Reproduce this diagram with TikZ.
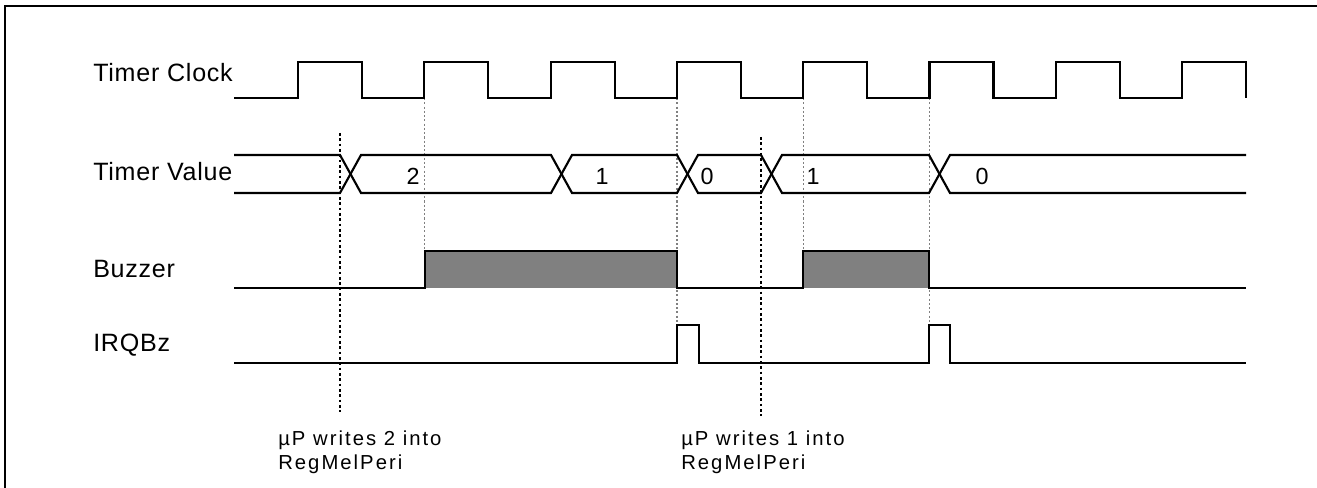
\documentclass[tikz,border=0pt]{standalone}
\usepackage{fontspec}
\setmainfont{Liberation Sans}
\newfontfamily\sigfont[LetterSpace=3]{Liberation Sans}
\newfontfamily\notefont[LetterSpace=10]{Liberation Sans}
\usetikzlibrary{positioning}

\tikzset{
  wave/.style={line width=1.6pt, line join=miter},
  sig/.style={anchor=base west, inner sep=0pt, font=\sigfont\fontsize{18.8}{21}\selectfont},
  busval/.style={inner sep=0pt, font=\fontsize{17.5}{19}\selectfont},
  note/.style={anchor=north west, inner sep=0pt, align=left, font=\notefont\fontsize{15.2}{17.4}\selectfont},
  edgemark/.style={gray, line width=1pt, dash pattern=on 1.6pt off 1.6pt},
  writemark/.style={black, line width=1.5pt, dash pattern=on 2pt off 2pt},
}

\begin{document}
\begin{tikzpicture}[x=0.75pt, y=-0.75pt]
\useasboundingbox (0,0) rectangle (1317,488);
\draw[line width=0.9pt] (5,488) -- (5,6) -- (1317,6);

% signal names
\node[sig] (clk) at (93,82)  {Timer Clock};
\node[sig] (val) at (93,181) {Timer Value};
\node[sig] (buz) at (93,277) {Buzzer};
\node[sig] (irq) at (93,351) {IRQBz};

% rising edges of the clock
\foreach \i in {0,...,7}
  \coordinate (r\i) at ({298+126.3*\i},98);

% guides from the clock edges
\draw[edgemark] (r1) -- (r1 |- 0,251);
\draw[edgemark] (r3) -- (r3 |- 0,325);
\draw[edgemark] (r4) -- (r4 |- 0,251);
\draw[edgemark] (r5) -- (r5 |- 0,325);

% writes of the microprocessor
\coordinate (w1) at (340,133);
\coordinate (w2) at (761,137);
\draw[writemark] (w1) -- (w1 |- 0,412);
\draw[writemark] (w2) -- (w2 |- 0,416);

% timer clock
\draw[wave] (234,98) foreach \i in {0,...,7} {
  -- ({298+126.3*\i},98) -- ({298+126.3*\i},62)
  -- ({362+126.3*\i},62) -- ({362+126.3*\i},98) };

% timer value
\draw[wave] (234,155) -- (340,155) -- (361,193) -- (551,193) -- (572,155)
  -- (677,155) -- (698,193) -- (761,193) -- (782,155) -- (929,155)
  -- (950,193) -- (1246,193);
\draw[wave] (234,193) -- (340,193) -- (361,155) -- (551,155) -- (572,193)
  -- (677,193) -- (698,155) -- (761,155) -- (782,193) -- (929,193)
  -- (950,155) -- (1246,155);
\node[busval] (v2a) at (413,176) {2};
\node[busval] (v1a) at (602,176) {1};
\node[busval] (v0a) at (707,176) {0};
\node[busval] (v1b) at (813,176) {1};
\node[busval] (v0b) at (982,176) {0};

% buzzer
\fill[gray] (425,288) rectangle (677,251);
\fill[gray] (803,288) rectangle (929,251);
\draw[wave] (234,288) -- (425,288) -- (425,251) -- (677,251) -- (677,288)
  -- (803,288) -- (803,251) -- (929,251) -- (929,288) -- (1246,288);

% interrupt
\draw[wave] (234,363) -- (677,363) -- (677,325) -- (699,325) -- (699,363)
  -- (929,363) -- (929,325) -- (950,325) -- (950,363) -- (1246,363);

% notes
\node[note] (n1) at (278,431) {µP writes 2 into\\RegMelPeri};
\node[note] (n2) at (681,431) {µP writes 1 into\\RegMelPeri};
\end{tikzpicture}
\end{document}
